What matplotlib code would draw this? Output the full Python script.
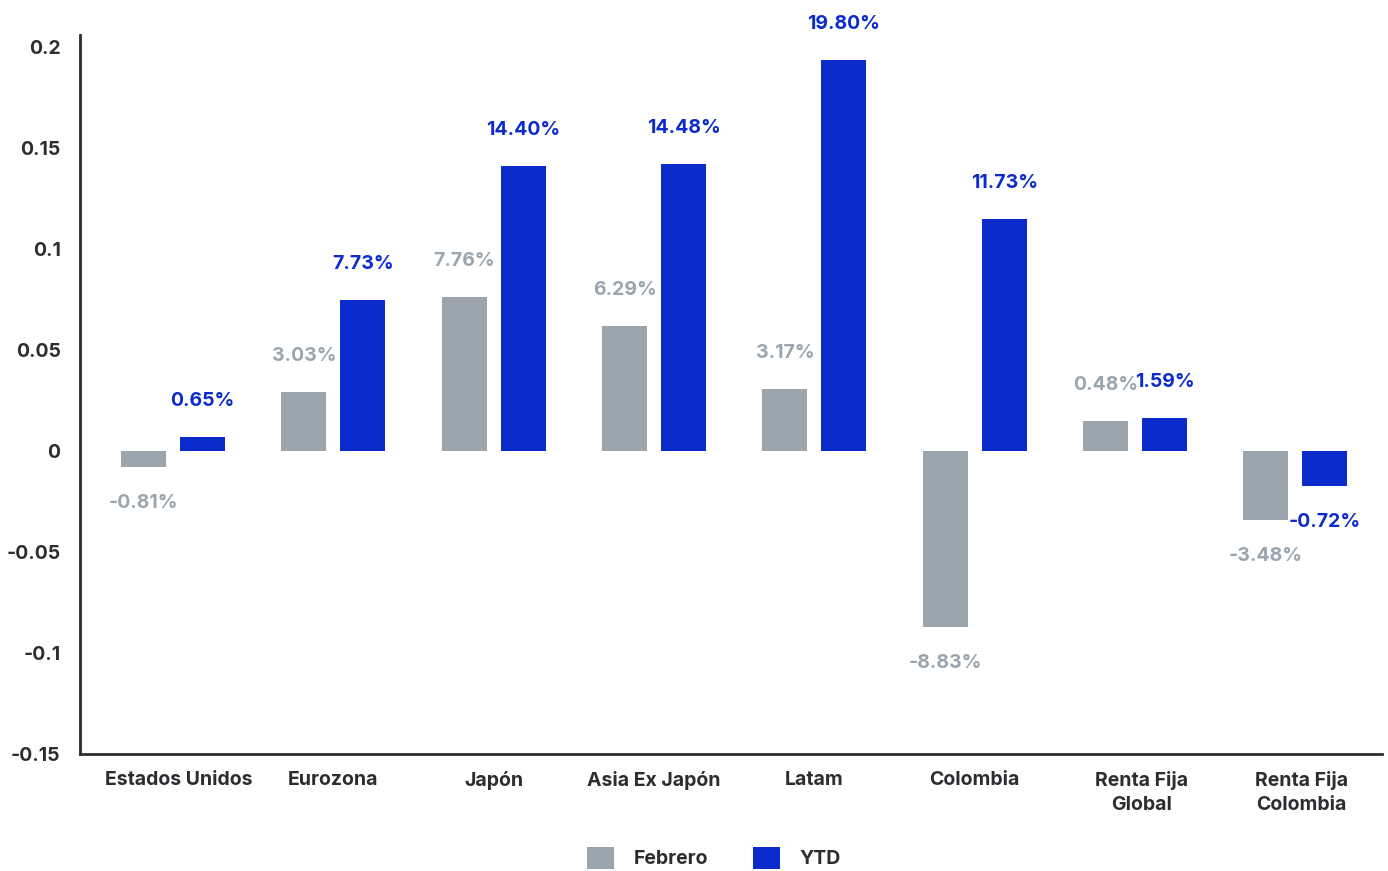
import matplotlib.pyplot as plt
import matplotlib.transforms as mtransforms
import numpy as np

# categories and values
categories = ["Estados Unidos", "Eurozona", "Japón", "Asia Ex Japón", "Latam",
              "Colombia", "Renta Fija\nGlobal", "Renta Fija\nColombia"]
febrero = [-0.0079, 0.0291, 0.0764, 0.0621, 0.0306, -0.0872, 0.0148, -0.0343]
ytd = [0.0069, 0.0749, 0.1410, 0.1419, 0.1937, 0.1148, 0.0163, -0.0171]
febrero_labels = ["-0.81%", "3.03%", "7.76%", "6.29%", "3.17%", "-8.83%", "0.48%", "-3.48%"]
ytd_labels = ["0.65%", "7.73%", "14.40%", "14.48%", "19.80%", "11.73%", "1.59%", "-0.72%"]
yticks = [-0.15, -0.1, -0.05, 0, 0.05, 0.1, 0.15, 0.2]
ytick_labels = ["-0.15", "-0.1", "-0.05", "0", "0.05", "0.1", "0.15", "0.2"]

GRAY = "#9aa5ae"
BLUE = "#0b2bcc"
TEXT = "#2b2d30"

plt.rcParams["font.family"] = ["Inter", "DejaVu Sans"]

fig = plt.figure(figsize=(13.88, 8.71), dpi=100)
ax = fig.add_axes([0.0576, 0.1343, 0.9381, 0.8255])

x = np.arange(len(categories))
w = 0.28
off = 0.184
ax.bar(x - off, febrero, w, color=GRAY, label="Febrero")
ax.bar(x + off, ytd, w, color=BLUE, label="YTD")

# value labels
for i in range(len(categories)):
    for val, lab, dx, col in [(febrero[i], febrero_labels[i], -off, GRAY),
                              (ytd[i], ytd_labels[i], off, BLUE)]:
        dy = 26 if val >= 0 else -26
        ax.annotate(lab, (x[i] + dx, val), xytext=(0, dy), textcoords="offset points",
                    ha="center", va="center", fontsize=14, fontweight="bold", color=col)

ax.set_xlim(-0.58, 7.54)
ax.set_ylim(-0.1483, 0.206)
ax.set_yticks(yticks)
ax.set_yticklabels(ytick_labels)
ax.set_xticks(x)
ax.set_xticklabels(categories, linespacing=1.45)
ax.tick_params(axis="both", length=0, labelsize=14, colors=TEXT)
ax.tick_params(axis="y", pad=14)
ax.tick_params(axis="x", pad=12)
for t in ax.get_xticklabels() + ax.get_yticklabels():
    t.set_fontweight("bold")

# a few category labels sit slightly right of their group in the original
shift = mtransforms.ScaledTranslation(0.06, 0, fig.dpi_scale_trans)
for i in [0, 6, 7]:
    lbl = ax.get_xticklabels()[i]
    lbl.set_transform(lbl.get_transform() + shift)

for s in ["top", "right"]:
    ax.spines[s].set_visible(False)
for s in ["left", "bottom"]:
    ax.spines[s].set_color(TEXT)
    ax.spines[s].set_linewidth(2)

leg = fig.legend(loc="center", bbox_to_anchor=(0.5145, 0.015), ncol=2, frameon=False,
                 fontsize=14, handlelength=1.4, handleheight=1.4, columnspacing=2.3,
                 handletextpad=1.0)
for t in leg.get_texts():
    t.set_fontweight("bold")
    t.set_color(TEXT)

fig.savefig("out.png", dpi=100)
